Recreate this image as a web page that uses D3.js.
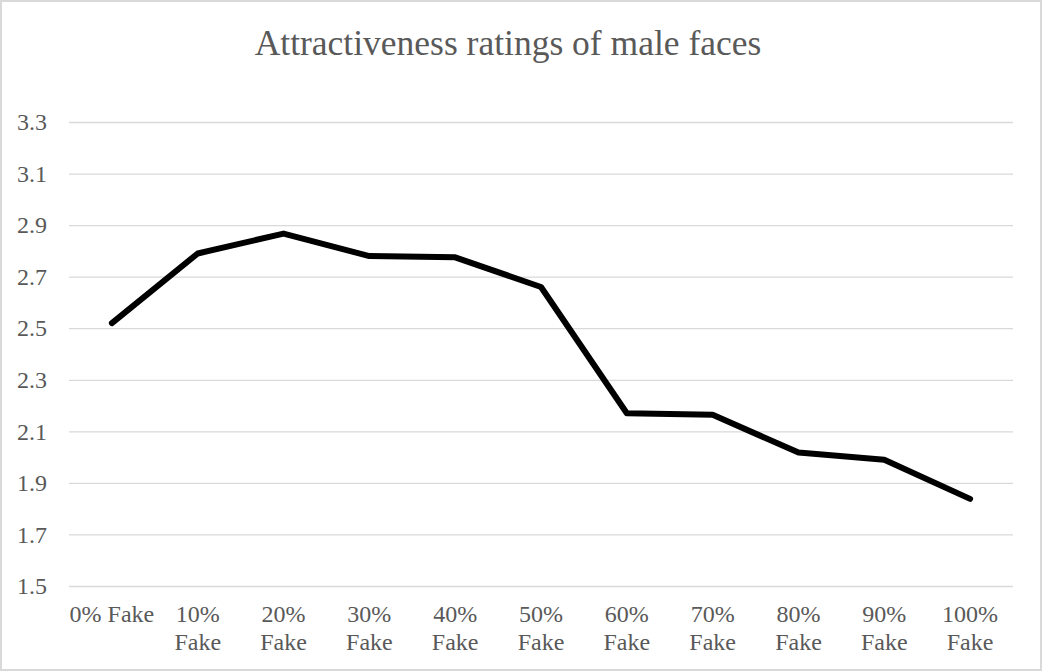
<!DOCTYPE html>
<html>
<head>
<meta charset="utf-8">
<script src="https://cdn.jsdelivr.net/npm/d3@7"></script>
<style>
  html, body { margin: 0; padding: 0; background: #fff; }
  svg { display: block; }
</style>
</head>
<body>
<script>
const title = "Attractiveness ratings of male faces";
const categories = ["0% Fake", "10% Fake", "20% Fake", "30% Fake", "40% Fake", "50% Fake",
                    "60% Fake", "70% Fake", "80% Fake", "90% Fake", "100% Fake"];
const values = [2.52, 2.79, 2.867, 2.78, 2.775, 2.66, 2.17, 2.164, 2.018, 1.99, 1.838];
const yTicks = [1.5, 1.7, 1.9, 2.1, 2.3, 2.5, 2.7, 2.9, 3.1, 3.3];

const W = 1043, H = 671;
const font = "'Liberation Serif', 'Times New Roman', serif";
const textColor = "#595959";
const gridColor = "#d9d9d9";

const svg = d3.select("body").append("svg").attr("width", W).attr("height", H);

// chart border
svg.append("rect").attr("x", 1).attr("y", 1).attr("width", W - 3).attr("height", H - 2)
  .attr("fill", "#fff").attr("stroke", gridColor).attr("stroke-width", 2);

const x = d3.scaleBand().domain(categories).range([69, 1013]).padding(0);
const y = d3.scaleLinear().domain([1.5, 3.3]).range([586, 122]);

// title
svg.append("text").attr("x", 508).attr("y", 55).attr("text-anchor", "middle")
  .attr("font-family", font).attr("font-size", 35.5).attr("fill", textColor).text(title);

// gridlines + y labels
const yAxis = d3.axisLeft(y).tickValues(yTicks).tickSize(-(1013 - 69)).tickPadding(22)
  .tickFormat(d3.format(".1f"));
const gy = svg.append("g").attr("transform", "translate(69,0)").call(yAxis);
gy.select(".domain").remove();
gy.selectAll(".tick line").attr("stroke", gridColor).attr("stroke-width", 1.3);
gy.selectAll(".tick text").attr("font-family", font).attr("font-size", 24)
  .attr("fill", textColor);

// x axis labels (wrapped)
const xAxis = d3.axisBottom(x).tickSize(0).tickPadding(0);
const gx = svg.append("g").attr("transform", "translate(0,586)").call(xAxis);
gx.select(".domain").remove();
gx.selectAll(".tick text").attr("font-family", font).attr("font-size", 24)
  .attr("fill", textColor).attr("dy", null).attr("y", 36)
  .each(function(d) {
    const t = d3.select(this);
    const bw = x.bandwidth();
    t.text(d);
    if (this.getComputedTextLength() > bw) {
      const words = d.split(" ");
      t.text(null);
      words.forEach((w, i) => {
        t.append("tspan").attr("x", 0).attr("y", 36 + i * 28).text(w);
      });
    }
  });

// line
const line = d3.line().x((d, i) => x(categories[i]) + x.bandwidth() / 2).y(d => y(d));
svg.append("path").datum(values).attr("d", line).attr("fill", "none")
  .attr("stroke", "#000").attr("stroke-width", 6)
  .attr("stroke-linejoin", "round").attr("stroke-linecap", "round");
</script>
</body>
</html>
